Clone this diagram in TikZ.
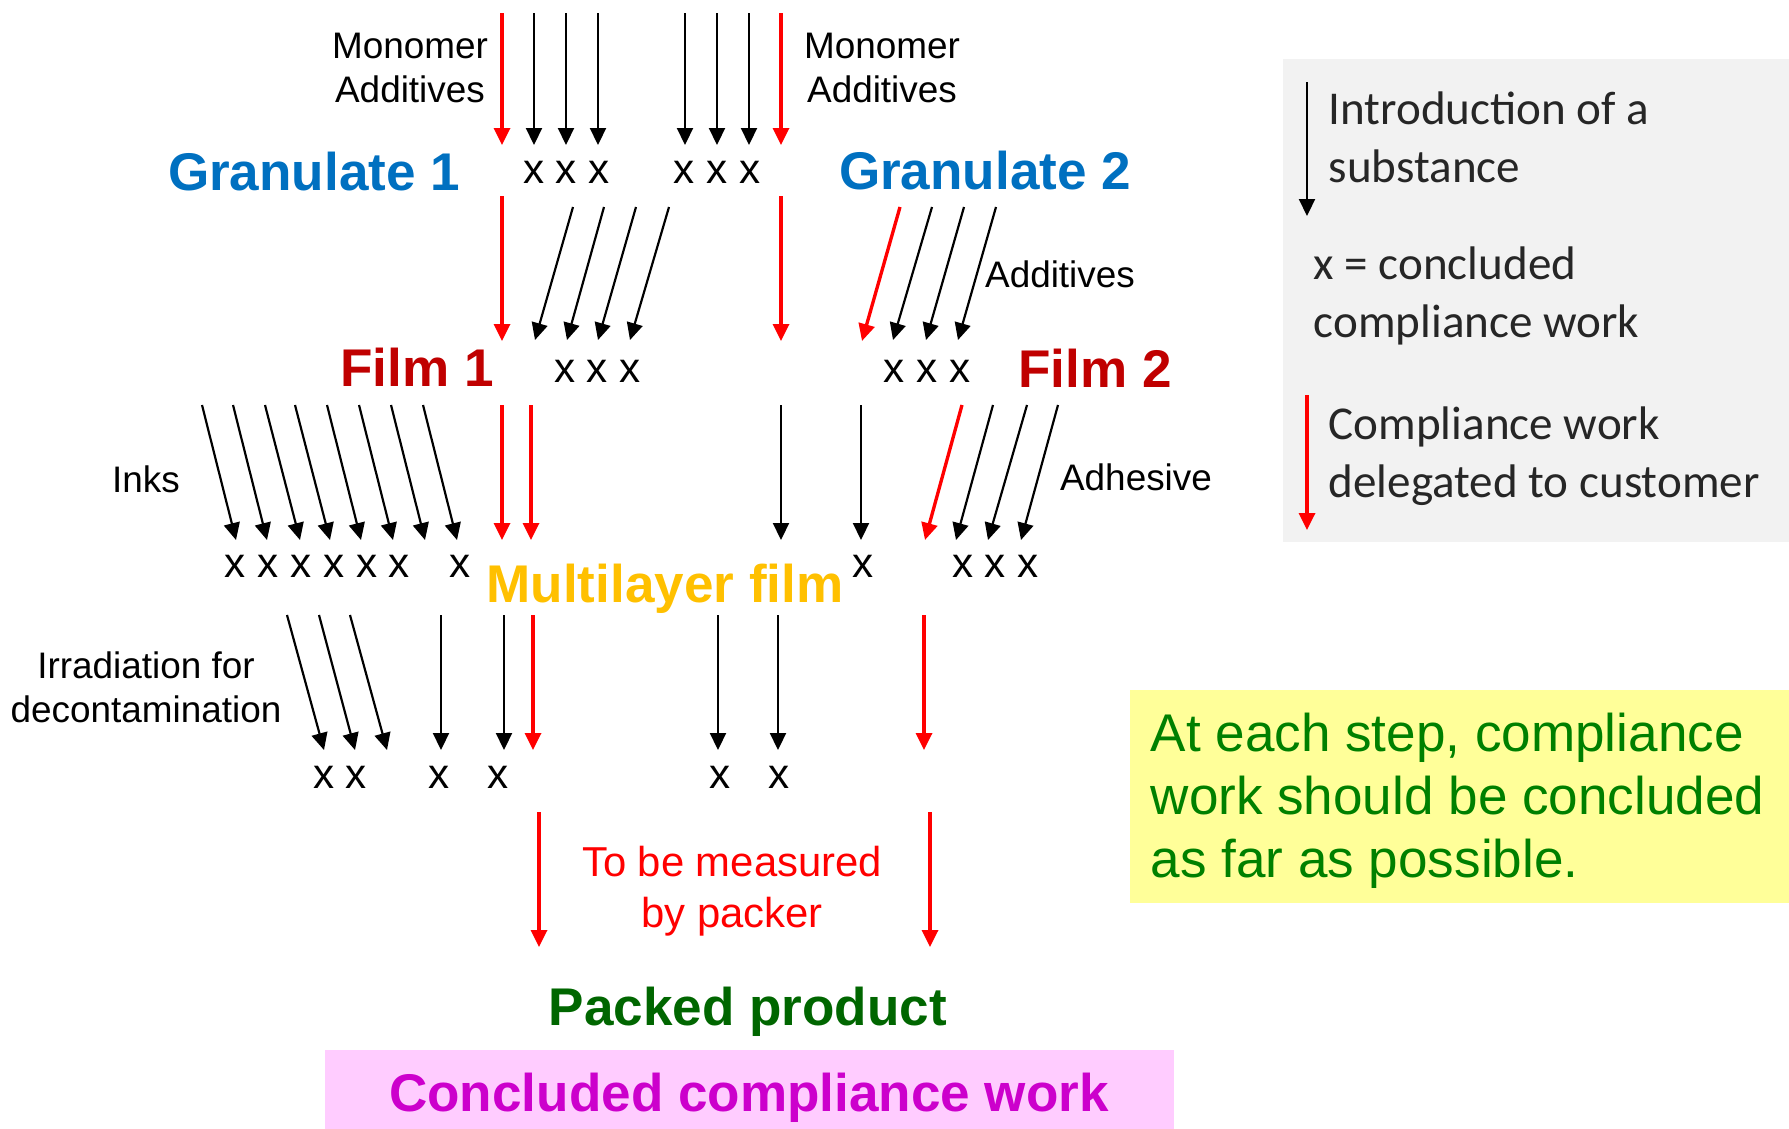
\documentclass[tikz,border=0pt]{standalone}
\usepackage{fontspec}
\setmainfont{Liberation Sans}
\newfontfamily\legendfont{Carlito}
\usepackage{tikz}
\usetikzlibrary{arrows.meta,positioning}

\definecolor{granblue}{HTML}{0070C0}
\definecolor{filmred}{HTML}{C00000}
\definecolor{multiyellow}{HTML}{FFC000}
\definecolor{packgreen}{HTML}{006600}
\definecolor{concmagenta}{HTML}{CC00CC}
\definecolor{concpink}{HTML}{FFCCFF}
\definecolor{notegreen}{HTML}{008000}
\definecolor{noteyellow}{HTML}{FFFF99}
\definecolor{legendgray}{HTML}{F2F2F2}
\definecolor{legendtext}{HTML}{262626}

\begin{document}
\begin{tikzpicture}[
    heading/.style={font=\fontsize{15.1}{18}\selectfont\bfseries, inner sep=0, anchor=base},
    lbl/.style={font=\fontsize{10.5}{12.5}\selectfont, align=center, inner sep=0, anchor=base},
    xmark/.style={font=\fontsize{12}{14}\selectfont, inner sep=0, anchor=base},
    legendtxt/.style={font=\legendfont\fontsize{13.4}{16.4}\selectfont, text=legendtext, align=left, inner sep=0, anchor=base west},
    arrow/.style={-{Triangle[length=0.17cm,width=0.16cm]}, line width=0.62pt},
    redarrow/.style={arrow, red, line width=0.95pt}
]
    \useasboundingbox (0,0) rectangle (17.89,-11.28);

    % Boxes
    \node[fill=legendgray, minimum width=5.07cm, minimum height=4.83cm, anchor=north west, inner sep=0] (legbox) at (12.82,-0.58) {};
    \node[fill=noteyellow, minimum width=6.60cm, minimum height=2.13cm, anchor=north west, inner sep=0] (notebox) at (11.29,-6.89) {};
    \node[fill=concpink, minimum width=8.49cm, minimum height=0.79cm, anchor=north west, inner sep=0] (concbox) at (3.24,-10.49) {};

    % Legend
    \coordinate (leg1a) at (13.07,-0.82);
    \coordinate (leg1b) at (13.07,-2.16);
    \draw[arrow] (leg1a) -- (leg1b);
    \node[legendtxt] (legintro) at (13.28,-1.82) {Introduction of a\\substance};
    \node[legendtxt] (legx) at (13.13,-3.37) {x = concluded\\compliance work};
    \coordinate (leg2a) at (13.07,-3.95);
    \coordinate (leg2b) at (13.07,-5.30);
    \draw[redarrow] (leg2a) -- (leg2b);
    \node[legendtxt] (legdeleg) at (13.28,-4.97) {Compliance work\\delegated to customer};

    \node[font=\fontsize{15.1}{17.9}\selectfont, text=notegreen, align=left, inner sep=0, anchor=base west] (note) at (11.50,-8.77) {At each step, compliance\\work should be concluded\\as far as possible.};

    % Stages
    \node[heading, text=granblue] (gran1) at (3.14,-1.90) {Granulate 1};
    \node[heading, text=granblue] (gran2) at (9.85,-1.89) {Granulate 2};
    \node[heading, text=filmred] (film1) at (4.17,-3.86) {Film 1};
    \node[heading, text=filmred] (film2) at (10.95,-3.87) {Film 2};
    \node[heading, text=multiyellow] (multi) at (6.65,-6.02) {Multilayer film};
    \node[heading, text=packgreen] (packed) at (7.48,-10.25) {Packed product};
    \node[heading, text=concmagenta] (concl) at (7.49,-11.11) {Concluded compliance work};

    % Inputs
    \node[lbl] (mono1) at (4.10,-1.02) {Monomer\\Additives};
    \node[lbl] (mono2) at (8.82,-1.02) {Monomer\\Additives};
    \node[lbl] (addit) at (10.60,-2.87) {Additives};
    \node[lbl] (inks) at (1.46,-4.92) {Inks};
    \node[lbl] (adhes) at (11.36,-4.90) {Adhesive};
    \node[lbl] (irrad) at (1.46,-7.22) {Irradiation for\\decontamination};
    \node[lbl, text=red, font=\fontsize{11.9}{14.5}\selectfont] (measured) at (7.32,-9.27) {To be measured\\by packer};

    % Concluded work
    \node[xmark] (xg1) at (5.665,-1.83) {x x x};
    \node[xmark] (xg2) at (7.17,-1.83) {x x x};
    \node[xmark] (xf1) at (5.975,-3.82) {x x x};
    \node[xmark] (xf2) at (9.27,-3.82) {x x x};
    \node[xmark] (xinks) at (3.175,-5.77) {x x x x x x};
    \node[xmark] (xfilm1) at (4.60,-5.77) {x};
    \node[xmark] (xfilm2) at (8.63,-5.77) {x};
    \node[xmark] (xadh) at (9.955,-5.77) {x x x};
    \node[xmark] (xirr) at (3.40,-7.88) {x x};
    \node[xmark] (xl1) at (4.39,-7.88) {x};
    \node[xmark] (xl2) at (4.98,-7.88) {x};
    \node[xmark] (xr1) at (7.20,-7.88) {x};
    \node[xmark] (xr2) at (7.79,-7.88) {x};

    % Granulate step
    \foreach \i/\xa in {1/5.34, 2/5.66, 3/5.98, 4/6.85, 5/7.17, 6/7.49} {
        \coordinate (ga\i) at (\xa,-0.13);
        \coordinate (gb\i) at (\xa,-1.45);
        \draw[arrow] (ga\i) -- (gb\i);
    }
    \foreach \i/\xa in {1/5.02, 2/7.81} {
        \coordinate (gra\i) at (\xa,-0.13);
        \coordinate (grb\i) at (\xa,-1.45);
        \draw[redarrow] (gra\i) -- (grb\i);
    }

    % Film step
    \foreach \i/\xa/\xb in {1/5.73/5.35, 2/6.04/5.67, 3/6.36/5.98, 4/6.69/6.30, 5/9.32/8.93, 6/9.64/9.26, 7/9.96/9.58} {
        \coordinate (fa\i) at (\xa,-2.07);
        \coordinate (fb\i) at (\xb,-3.40);
        \draw[arrow] (fa\i) -- (fb\i);
    }
    \foreach \i/\xa/\ya/\xb in {1/5.02/-1.96/5.02, 2/7.81/-1.96/7.81, 3/9.00/-2.07/8.62} {
        \coordinate (fra\i) at (\xa,\ya);
        \coordinate (frb\i) at (\xb,-3.41);
        \draw[redarrow] (fra\i) -- (frb\i);
    }

    % Multilayer step
    \foreach \i/\xa/\xb in {1/2.02/2.36, 2/2.33/2.67, 3/2.65/3.00, 4/2.95/3.30, 5/3.27/3.61, 6/3.59/3.93, 7/3.91/4.25, 8/4.23/4.57, 9/7.81/7.81, 10/8.61/8.61, 11/9.93/9.56, 12/10.27/9.88, 13/10.58/10.21} {
        \coordinate (ma\i) at (\xa,-4.05);
        \coordinate (mb\i) at (\xb,-5.40);
        \draw[arrow] (ma\i) -- (mb\i);
    }
    \foreach \i/\xa/\xb in {1/5.02/5.02, 2/5.31/5.31, 3/9.62/9.25} {
        \coordinate (mra\i) at (\xa,-4.05);
        \coordinate (mrb\i) at (\xb,-5.40);
        \draw[redarrow] (mra\i) -- (mrb\i);
    }

    % Irradiation step
    \foreach \i/\xa/\xb in {1/2.87/3.24, 2/3.19/3.55, 3/3.50/3.87, 4/4.41/4.41, 5/5.04/5.04, 6/7.18/7.18, 7/7.78/7.78} {
        \coordinate (ia\i) at (\xa,-6.15);
        \coordinate (ib\i) at (\xb,-7.50);
        \draw[arrow] (ia\i) -- (ib\i);
    }
    \foreach \i/\xa in {1/5.33, 2/9.24} {
        \coordinate (ira\i) at (\xa,-6.15);
        \coordinate (irb\i) at (\xa,-7.50);
        \draw[redarrow] (ira\i) -- (irb\i);
    }

    % Packer
    \foreach \i/\xa in {1/5.39, 2/9.30} {
        \coordinate (pa\i) at (\xa,-8.12);
        \coordinate (pb\i) at (\xa,-9.47);
        \draw[redarrow] (pa\i) -- (pb\i);
    }

\end{tikzpicture}
\end{document}
